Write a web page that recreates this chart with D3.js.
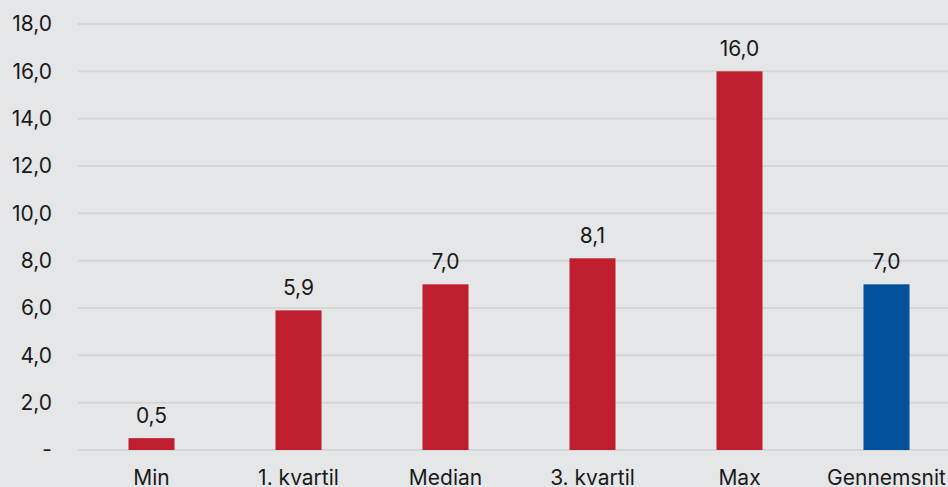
<!DOCTYPE html>
<html>
<head>
<meta charset="utf-8">
<script src="https://cdn.jsdelivr.net/npm/d3@7"></script>
<style>
  html, body { margin: 0; padding: 0; background: #e5e6e8; overflow: hidden; }
  svg { display: block; font-family: Inter, "Noto Sans", sans-serif; }
</style>
</head>
<body>
<script>
const categories = ["Min", "1. kvartil", "Median", "3. kvartil", "Max", "Gennemsnit"];
const values = [0.5, 5.9, 7.0, 8.1, 16.0, 7.0];
const barColors = ["#be1e2d", "#be1e2d", "#be1e2d", "#be1e2d", "#be1e2d", "#00509b"];
const yTicks = [0, 2, 4, 6, 8, 10, 12, 14, 16, 18];

var width = 948, height = 487;
var fontSize = "21px";
var svg = d3.select("body").append("svg")
  .attr("width", width)
  .attr("height", height);

svg.append("rect").attr("width", width).attr("height", height).attr("fill", "#e5e6e8");

var fmt = function(v) { return v == 0 ? "-" : v.toFixed(1).replace(".", ","); };

var x = d3.scaleBand()
  .domain(categories)
  .range([78, 960])
  .paddingInner(0.687)
  .paddingOuter(0.3435);

var y = d3.scaleLinear()
  .domain([0, 18])
  .range([450, 24]);

// gridlines
svg.append("g").selectAll("line")
  .data(yTicks)
  .enter()
  .append("line")
  .attr("x1", 78)
  .attr("x2", width)
  .attr("y1", d => y(d))
  .attr("y2", d => y(d))
  .attr("stroke", "#d5d6d8")
  .attr("stroke-width", 2);

// y axis labels
var yAxis = svg.append("g")
  .attr("transform", "translate(52,0)")
  .call(d3.axisLeft(y).tickValues(yTicks).tickFormat(fmt).tickSize(0).tickPadding(0));
yAxis.select(".domain").remove();
yAxis.selectAll("text")
  .attr("fill", "#1a1a1a")
  .style("font-size", fontSize)
  .style("font-family", "Inter, 'Noto Sans', sans-serif");

// bars
svg.append("g").selectAll("rect")
  .data(values)
  .enter()
  .append("rect")
  .attr("x", (d, i) => x(categories[i]))
  .attr("y", d => y(d))
  .attr("width", x.bandwidth())
  .attr("height", d => y(0) - y(d))
  .attr("fill", (d, i) => barColors[i]);

// value labels
svg.append("g").selectAll("text")
  .data(values)
  .enter()
  .append("text")
  .attr("x", (d, i) => x(categories[i]) + x.bandwidth() / 2)
  .attr("y", d => y(d) - 15)
  .attr("text-anchor", "middle")
  .attr("fill", "#1a1a1a")
  .style("font-size", fontSize)
  .text(d => fmt(d));

// x axis labels
var xAxis = svg.append("g")
  .attr("transform", "translate(0,450)")
  .call(d3.axisBottom(x).tickSize(0).tickPadding(20));
xAxis.select(".domain").remove();
xAxis.selectAll("text")
  .attr("fill", "#1a1a1a")
  .style("font-size", fontSize)
  .style("font-family", "Inter, 'Noto Sans', sans-serif");
</script>
</body>
</html>
